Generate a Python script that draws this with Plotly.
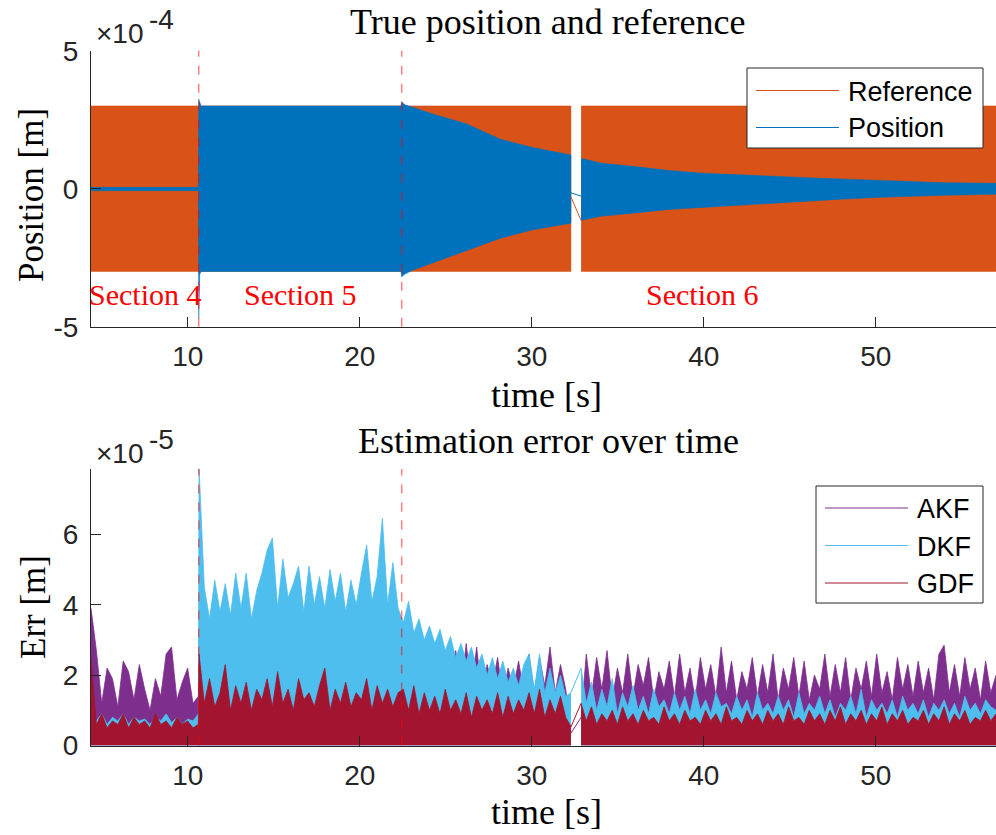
import numpy as np
import plotly.graph_objects as go

W, H = 996, 835
L_MARGIN = 91

# ---------------- data ----------------
T_RANGE = [4.378, 56.99]
SECTION_BOUNDS = [10.64, 22.44]

# Top plot (units of 1e-4 m): reference square wave envelope, two segments around the data gap
ref1_t = [4.378, 32.28]
ref1_hi = [3.0, 3.0]
ref1_lo = [-3.0, -3.0]
ref2_t = [32.87, 56.99]
ref2_hi = [3.0, 3.0]
ref2_lo = [-3.0, -3.0]
ref_gap_y = [-0.3, -1.15]

# Position envelope
pos1_t = [4.378, 10.62, 10.64, 10.70, 10.78, 22.40, 22.44, 22.6, 23.1, 24.2, 26.2, 28.15, 30.0, 32.28]
pos1_hi = [0.05, 0.05, 3.25, 3.1, 3.0, 3.0, 3.15, 3.05, 2.95, 2.72, 2.35, 1.8, 1.5, 1.22]
pos1_lo = [-0.07, -0.07, -4.7, -3.1, -3.0, -3.0, -3.2, -3.1, -2.95, -2.7, -2.25, -1.8, -1.5, -1.25]
pos2_t = [32.87, 34.0, 36.0, 38.0, 40.0, 42.0, 44.0, 46.0, 48.0, 50.0, 52.0, 54.0, 56.99]
pos2_hi = [1.1, 0.93, 0.8, 0.66, 0.56, 0.5, 0.45, 0.4, 0.35, 0.3, 0.25, 0.22, 0.2]
pos2_lo = [-1.15, -1.0, -0.88, -0.75, -0.67, -0.6, -0.52, -0.45, -0.38, -0.32, -0.27, -0.24, -0.2]
pos_gap_y = [-0.15, -0.27]

# Bottom plot (units of 1e-5 m): error peaks sampled along time
SEG4 = [4.378, 10.62]
SEGB = [10.66, 32.28]
SEGC = [32.87, 56.99]

akf_4 = [3.9, 2.7, 1.2, 2.2, 1.9, 1.1, 2.4, 2.1, 1.3, 2.3, 1.6, 1.0, 1.9, 1.4, 2.6, 2.8, 1.3, 1.8, 2.2, 1.2, 1.4]
dkf_4 = [0.8, 0.7, 0.9, 0.6, 0.8, 0.7, 0.9, 0.6, 0.8, 0.7, 0.75, 0.6, 0.8, 0.7, 0.9, 0.65, 0.8, 0.6, 0.75, 0.7, 0.9]
gdf_4 = [2.5, 0.6, 0.9, 0.5, 0.7, 0.6, 0.9, 0.5, 0.8, 0.6, 0.7, 0.5, 0.9, 0.6, 0.7, 0.5, 0.8, 0.6, 0.7, 0.5, 0.6]

akf_b = [3.0, 2.2, 1.8, 2.4, 1.9, 2.1, 2.6, 1.7, 2.3, 2.0,
         2.5, 1.8, 2.2, 2.7, 1.9, 2.1, 2.4, 1.8, 2.3, 2.6,
         2.0, 1.9, 2.4, 2.2, 1.7, 2.5, 2.1, 2.3, 1.9, 2.6,
         2.0, 2.2, 1.8, 2.4, 2.1, 2.7, 1.9, 2.3, 2.0,
         2.2, 1.6, 2.5, 1.5, 2.3, 1.7, 2.6, 1.4, 2.2, 1.8,
         2.7, 1.5, 2.9, 1.6, 2.8, 1.4, 2.3, 1.7, 2.5, 1.4,
         2.2, 1.6, 2.4, 1.5, 2.6, 1.4, 2.5, 1.7, 2.8, 1.5,
         2.3, 1.6, 0.35]
dkf_b = [7.9, 4.5, 3.6, 4.7, 3.8, 4.6, 3.7, 4.9, 3.9, 4.9,
         3.6, 4.4, 4.9, 5.55, 5.9, 3.9, 5.3, 4.2, 4.6, 5.1,
         3.8, 5.1, 4.0, 4.8, 3.9, 5.0, 4.1, 4.9, 3.8, 4.7,
         4.0, 4.9, 5.7, 4.1, 4.8, 6.45, 4.0, 5.2, 3.9,
         3.5, 4.1, 3.2, 3.6, 3.0, 3.4, 2.9, 3.3, 2.7, 3.1,
         2.5, 2.9, 2.4, 2.8, 2.2, 2.6, 2.0, 2.5, 1.9, 2.4,
         1.8, 2.2, 1.7, 2.3, 2.6, 1.6, 2.6, 1.5, 2.2, 1.5,
         2.0, 1.4, 1.5]
gdf_b = [2.6, 1.2, 1.9, 1.1, 1.5, 2.3, 1.0, 1.7, 1.2, 1.8,
         1.0, 1.6, 1.3, 1.9, 1.1, 2.1, 1.2, 1.6, 1.0, 1.9,
         1.3, 1.5, 1.1, 1.7, 2.2, 1.0, 1.6, 1.2, 1.8, 1.1,
         1.5, 1.3, 1.9, 1.0, 1.7, 1.2, 1.6, 1.1, 1.5,
         1.6, 1.0, 1.7, 0.9, 1.5, 1.0, 1.4, 0.9, 1.6, 1.0,
         1.3, 0.9, 1.5, 0.8, 1.4, 1.0, 1.3, 0.9, 1.5, 0.8,
         1.4, 0.9, 1.3, 1.0, 1.5, 0.9, 1.6, 0.8, 1.3, 0.9,
         1.4, 0.8, 0.53]

akf_c = [0.8, 2.6, 1.4, 2.5, 1.6, 2.7, 1.3, 2.2, 1.5, 2.6, 1.4, 2.3, 1.7, 2.5, 1.3, 2.1,
         1.6, 2.4, 1.4, 2.6, 1.5, 2.2, 1.3, 2.5, 1.6, 2.3, 1.4, 2.8, 1.5, 2.4, 1.3, 2.1,
         1.6, 2.5, 1.4, 2.3, 1.5, 2.6, 1.3, 2.2, 1.6, 2.5, 1.4, 2.4, 1.3, 2.0, 1.6, 2.6,
         1.4, 2.3, 1.5, 2.5, 1.3, 2.2, 1.6, 2.4, 1.4, 2.6, 1.5, 2.1, 1.3, 2.5, 1.6, 2.3,
         1.4, 2.4, 1.5, 2.2, 1.3, 2.6, 2.85, 1.5, 2.3, 1.4, 2.5, 1.6, 2.2, 1.3, 2.4, 1.5, 2.0]
dkf_c = [2.2, 1.2, 1.8, 1.0, 1.6, 1.1, 1.9, 0.9, 1.5, 1.1, 1.7, 1.0, 1.4, 0.9, 1.6, 1.1,
         1.3, 0.9, 1.5, 1.0, 1.4, 0.9, 1.6, 1.0, 1.3, 0.9, 1.5, 1.1, 1.2, 0.9, 1.4, 1.0,
         1.3, 0.8, 1.5, 1.0, 1.2, 0.9, 1.4, 1.0, 1.3, 0.8, 1.5, 0.9, 1.2, 1.0, 1.4, 0.9,
         1.3, 0.8, 1.2, 1.0, 1.4, 0.9, 1.6, 0.8, 1.3, 1.0, 1.2, 0.9, 1.3, 0.8, 1.4, 1.0,
         1.2, 0.9, 1.3, 0.8, 1.2, 1.0, 1.3, 0.9, 1.2, 0.8, 1.4, 1.0, 1.2, 0.9, 1.3, 1.1, 1.0]
gdf_c = [1.2, 0.7, 1.1, 0.6, 0.9, 0.7, 1.0, 0.6, 1.1, 0.7, 0.9, 0.6, 1.0, 0.7, 0.8, 0.6,
         1.1, 0.7, 0.9, 0.6, 1.0, 0.7, 0.8, 0.6, 1.0, 0.7, 0.9, 0.6, 1.1, 0.7, 0.8, 0.6,
         1.0, 0.7, 0.9, 0.6, 1.0, 0.7, 0.9, 0.6, 1.1, 0.7, 0.8, 0.6, 1.0, 0.7, 0.9, 0.6,
         1.0, 0.7, 1.1, 0.6, 0.9, 0.7, 1.0, 0.6, 0.9, 0.7, 1.1, 0.6, 0.9, 0.7, 1.0, 0.6,
         0.8, 0.7, 1.0, 0.6, 0.9, 0.7, 1.1, 0.6, 0.9, 0.7, 1.0, 0.6, 0.8, 0.7, 1.0, 0.7, 0.9]

X_TICKS = [10, 20, 30, 40, 50]
Y1_TICKS = [-5, 0, 5]
Y1_LABELS = ["-5", "0", "5"]
Y2_TICKS = [0, 2, 4, 6]
Y2_LABELS = ["0", "2", "4", "6"]
Y1_RANGE = [-5, 5]
Y2_RANGE = [0, 7.86]

TOP_LEGEND = ["Reference", "Position"]
BOTTOM_LEGEND = ["AKF", "DKF", "GDF"]

# ---------------- styling ----------------
C_REF = "#D95319"
C_POS = "#0072BD"
C_AKF = "#7E2F8E"
C_DKF = "#4DBEEE"
C_GDF = "#A2142F"
AX_COL = "#262626"
SANS = "Liberation Sans, Arial, sans-serif"
SERIF = "Liberation Serif, Times New Roman, serif"


def pxx(p):
    return (p - L_MARGIN) / (W - L_MARGIN)


def pyy(p):
    return 1 - p / H


fig = go.Figure()


def band(t, hi, lo, color, xa, ya):
    fig.add_trace(go.Scatter(
        x=list(t) + list(t)[::-1], y=list(hi) + list(lo)[::-1],
        fill="toself", fillcolor=color, mode="lines",
        line=dict(color=color, width=0.5), showlegend=False,
        hoverinfo="skip", xaxis=xa, yaxis=ya))


# Top: reference then position
band(ref1_t, ref1_hi, ref1_lo, C_REF, "x", "y")
band(ref2_t, ref2_hi, ref2_lo, C_REF, "x", "y")
band(pos1_t, pos1_hi, pos1_lo, C_POS, "x", "y")
band(pos2_t, pos2_hi, pos2_lo, C_POS, "x", "y")

series = [("AKF", C_AKF, akf_4, akf_b, akf_c),
          ("DKF", C_DKF, dkf_4, dkf_b, dkf_c),
          ("GDF", C_GDF, gdf_4, gdf_b, gdf_c)]
for name, col, v4, vb, vc in series:
    t_ab = np.concatenate([np.linspace(SEG4[0], SEG4[1], len(v4)),
                           np.linspace(SEGB[0], SEGB[1], len(vb))])
    y_ab = list(v4) + list(vb)
    t_c = np.linspace(SEGC[0], SEGC[1], len(vc))
    for tt, yy in ((t_ab, y_ab), (t_c, vc)):
        fig.add_trace(go.Scatter(x=tt, y=yy, mode="lines", fill="tozeroy",
                                 fillcolor=col, line=dict(color=col, width=0.8),
                                 showlegend=False, hoverinfo="skip", name=name,
                                 xaxis="x2", yaxis="y2"))

# straight segments across the data gap
fig.add_trace(go.Scatter(x=[ref1_t[-1], ref2_t[0]], y=ref_gap_y, mode="lines",
                         line=dict(color=C_REF, width=1), name="Reference",
                         showlegend=False, xaxis="x", yaxis="y"))
fig.add_trace(go.Scatter(x=[pos1_t[-1], pos2_t[0]], y=pos_gap_y, mode="lines",
                         line=dict(color=C_POS, width=1), name="Position",
                         showlegend=False, xaxis="x", yaxis="y"))
for name, col, v4, vb, vc in series:
    fig.add_trace(go.Scatter(x=[SEGB[1], SEGC[0]], y=[vb[-1], vc[0]], mode="lines",
                             line=dict(color=col, width=1), name=name,
                             showlegend=False, xaxis="x2", yaxis="y2"))

# Section boundary dashed lines
for xa, ya in (("x", "y"), ("x2", "y2")):
    for b in SECTION_BOUNDS:
        fig.add_shape(type="line", x0=b, x1=b, y0=0, y1=1, xref=xa, yref=f"{ya} domain",
                      line=dict(color="rgba(255,0,0,0.5)", width=1.5, dash="dash"),
                      layer="above")

ann = []


def text(s, x, y, size, family, color="black", xanchor="center", yanchor="middle",
         angle=0, xref="paper", yref="paper"):
    ann.append(dict(text=s, x=x, y=y, xref=xref, yref=yref, showarrow=False,
                    font=dict(family=family, size=size, color=color),
                    xanchor=xanchor, yanchor=yanchor, textangle=angle))


# legend boxes (MATLAB style: long line sample, text to the right)
def legend_box(left, top, right, bottom, names, colors, row0, step):
    fig.add_shape(type="rect", xref="paper", yref="paper",
                  x0=pxx(left), x1=pxx(right), y0=pyy(bottom), y1=pyy(top),
                  line=dict(color=AX_COL, width=1), fillcolor="white", layer="above")
    for i, (nm, col) in enumerate(zip(names, colors)):
        yy = row0 + i * step
        fig.add_shape(type="line", xref="paper", yref="paper",
                      x0=pxx(left + 9), x1=pxx(left + 92), y0=pyy(yy), y1=pyy(yy),
                      line=dict(color=col, width=1.2), layer="above")
        text(nm, pxx(left + 99), pyy(yy + 1), 27, SANS, "black", xanchor="left")


legend_box(747, 68, 983, 148, TOP_LEGEND, [C_REF, C_POS], 90.5, 37)
legend_box(816, 486, 983, 603, BOTTOM_LEGEND, [C_AKF, C_DKF, C_GDF], 508, 37.5)

axis_common = dict(showgrid=False, zeroline=False, showline=True, linecolor=AX_COL,
                   linewidth=1, ticks="inside", ticklen=10, tickwidth=1,
                   tickcolor=AX_COL, tickfont=dict(family=SANS, size=28, color=AX_COL),
                   automargin=False, mirror=False)

top_dom = [pyy(326.7), pyy(50.7)]
bot_dom = [pyy(745.5), pyy(469)]

fig.update_layout(
    width=W, height=H,
    margin=dict(l=L_MARGIN, r=0, t=0, b=0),
    paper_bgcolor="white", plot_bgcolor="white",
    showlegend=False,
    xaxis=dict(domain=[0, 1], range=T_RANGE, tickvals=X_TICKS, anchor="y",
               ticklabelstandoff=5, **axis_common),
    yaxis=dict(domain=top_dom, range=Y1_RANGE, tickvals=Y1_TICKS, ticktext=Y1_LABELS,
               anchor="x", ticklabelstandoff=6, **axis_common),
    xaxis2=dict(domain=[0, 1], range=T_RANGE, tickvals=X_TICKS, anchor="y2",
                ticklabelstandoff=5, **axis_common),
    yaxis2=dict(domain=bot_dom, range=Y2_RANGE, tickvals=Y2_TICKS, ticktext=Y2_LABELS,
                anchor="x2", ticklabelstandoff=6, **axis_common),
)

text("True position and reference", pxx(548), pyy(22), 36, SERIF)
text("Estimation error over time", pxx(548), pyy(441), 36, SERIF)
text("time [s]", pxx(546), pyy(395), 36, SERIF)
text("time [s]", pxx(546), pyy(812), 36, SERIF)
text("Position [m]", pxx(32), pyy(195), 35, SERIF, angle=-90)
text("Err [m]", pxx(33), pyy(607), 35, SERIF, angle=-90)
# exponent labels
text("×10", pxx(94), pyy(34), 28, SANS, AX_COL, xanchor="left")
text("-4", pxx(147), pyy(20), 28, SANS, AX_COL, xanchor="left")
text("×10", pxx(94), pyy(453), 28, SANS, AX_COL, xanchor="left")
text("-5", pxx(147), pyy(439), 28, SANS, AX_COL, xanchor="left")
for s, tx in (("Section 4", 7.52), ("Section 5", 16.53), ("Section 6", 39.95)):
    text(s, tx, -3.82, 30, SERIF, "#FF0000", xref="x", yref="y")

fig.update_layout(annotations=ann)
fig.write_html("out.html")
